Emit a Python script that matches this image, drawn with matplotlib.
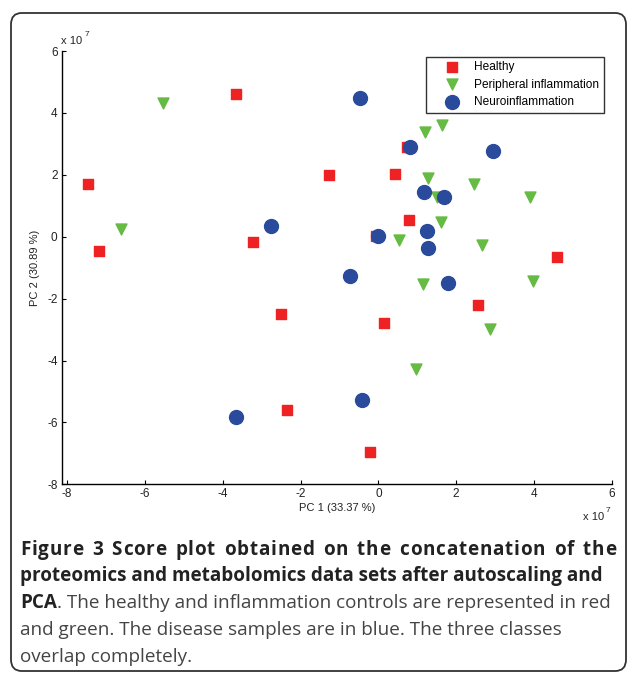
import matplotlib
matplotlib.use('Agg')
import matplotlib.pyplot as plt
from matplotlib.patches import FancyBboxPatch
from matplotlib.font_manager import FontProperties

# Scores (units of 1e7)
healthy_pc1 = [-3.65, -7.46, -7.17, -3.23, -1.28, 0.42, 0.75, 0.78, 4.59, 2.55, 0.14, -0.21, -2.51, -2.36, -0.05]
healthy_pc2 = [4.60, 1.71, -0.46, -0.16, 2.00, 2.03, 2.91, 0.53, -0.65, -2.20, -2.79, -6.96, -2.50, -5.61, 0.02]

periph_pc1 = [-5.54, -6.61, 1.19, 1.65, 1.28, 2.46, 1.50, 3.89, 1.60, 0.54, 2.66, 1.14, 3.97, 2.88, 0.98]
periph_pc2 = [4.32, 0.24, 3.39, 3.61, 1.90, 1.69, 1.29, 1.29, 0.46, -0.12, -0.26, -1.52, -1.44, -2.99, -4.29]

neuro_pc1 = [-0.47, 0.81, 2.95, 1.17, 1.69, 1.26, -0.01, 1.29, -2.75, -0.72, 1.79, -0.41, -3.65]
neuro_pc2 = [4.48, 2.91, 2.78, 1.44, 1.28, 0.17, 0.02, -0.37, 0.33, -1.27, -1.49, -5.28, -5.84]

xticks = [-8, -6, -4, -2, 0, 2, 4, 6]
yticks = [-8, -6, -4, -2, 0, 2, 4, 6]

caption = [
    ("Figure 3 Score plot obtained on the concatenation of the", None),
    ("proteomics and metabolomics data sets after autoscaling and", None),
    ("PCA", ". The healthy and inflammation controls are represented in red"),
    (None, "and green. The disease samples are in blue. The three classes"),
    (None, "overlap completely."),
]

W, H = 629, 673
fig = plt.figure(figsize=(W / 100, H / 100), dpi=100)

# rounded frame around the whole figure
frame = FancyBboxPatch((11 / W, 2 / H), 615 / W, 658 / H,
                       boxstyle="round,pad=0,rounding_size=0.017",
                       transform=fig.transFigure, fill=False,
                       edgecolor='#333333', linewidth=1.3)
fig.patches.append(frame)

ax = fig.add_axes([61.7 / W, 1 - 484.3 / H, 550 / W, 433.3 / H])
ax.scatter(healthy_pc1, healthy_pc2, marker='s', s=60, color='#ee2222', label='Healthy', zorder=3)
ax.scatter(periph_pc1, periph_pc2, marker='v', s=62, color='#66bb44', label='Peripheral inflammation', zorder=3)
ax.scatter(neuro_pc1, neuro_pc2, marker='o', s=100, color='#2a4b9b', label='Neuroinflammation', zorder=4)

ax.set_xlim(-8.14, 6.0)
ax.set_ylim(-8, 6)
ax.spines['top'].set_visible(False)
ax.spines['right'].set_visible(False)
for s in ['left', 'bottom']:
    ax.spines[s].set_linewidth(1.0)
ax.set_xticks(xticks)
ax.set_xticklabels([str(t) for t in xticks])
ax.set_yticks(yticks)
ax.set_yticklabels([str(t) for t in yticks])
ax.tick_params(direction='in', length=3, width=0.8, labelsize=8.5, pad=3,
               labelcolor='#222222')
for lab in ax.get_xticklabels() + ax.get_yticklabels():
    lab.set_family('Liberation Sans')

ax.set_xlabel('PC 1 (33.37 %)', fontsize=8, family='Liberation Sans', labelpad=2, color='#222222')
ax.set_ylabel('PC 2 (30.89 %)', fontsize=8, family='Liberation Sans', labelpad=5, color='#222222')

leg = ax.legend(loc='upper left', bbox_to_anchor=(426 / W, 1 - 56.7 / H),
                bbox_transform=fig.transFigure, frameon=True, fancybox=False,
                edgecolor='black', prop={'family': 'Liberation Sans', 'size': 8.6},
                borderpad=0.35, labelspacing=0.48, handletextpad=0.1,
                borderaxespad=0, handlelength=3.6, scatterpoints=1)
leg.get_frame().set_linewidth(1.0)

# exponent labels
fig.text(61 / W, 1 - 41 / H, 'x 10', fontsize=8, family='Liberation Sans', va='center', color='#222222')
fig.text(85 / W, 1 - 34 / H, '7', fontsize=6, family='Liberation Sans', va='center', color='#222222')
fig.text(583 / W, 1 - 517 / H, 'x 10', fontsize=8, family='Liberation Sans', va='center', color='#222222')
fig.text(606 / W, 1 - 510 / H, '7', fontsize=6, family='Liberation Sans', va='center', color='#222222')

# caption
baselines = [555, 581, 608, 635, 662]
fsize = 13.6
x_left, x_right = 20, 616
renderer = fig.canvas.get_renderer()
bold_fp = FontProperties(family='Open Sans', weight='bold', size=fsize)

def text_w(s, fp):
    w, h, d = renderer.get_text_width_height_descent(s, fp, ismath=False)
    return w

for i, ((bold, normal), yb) in enumerate(zip(caption, baselines)):
    y = 1 - yb / H
    if i == 0:
        # first line is justified: letter tracking plus wider word gaps
        natural = text_w(bold, bold_fp)
        n = len(bold)
        nspace = bold.count(' ')
        track = 0.8
        extra = (x_right - x_left - natural - track * (n - 1)) / nspace
        spaces = 0
        for k, ch in enumerate(bold):
            if ch == ' ':
                spaces += 1
                continue
            x = x_left + text_w(bold[:k], bold_fp) + track * k + extra * spaces
            fig.text(x / W, y, ch, fontproperties=bold_fp, va='baseline', color='#222222')
        continue
    x = x_left / W
    if bold:
        t = fig.text(x, y, bold, fontproperties=bold_fp, va='baseline', color='#222222')
        if normal:
            x = t.get_window_extent(renderer).x1 / W
    if normal:
        fig.text(x, y, normal, fontsize=fsize, family='Open Sans', va='baseline', color='#444444')

fig.savefig('out.png', dpi=100)
